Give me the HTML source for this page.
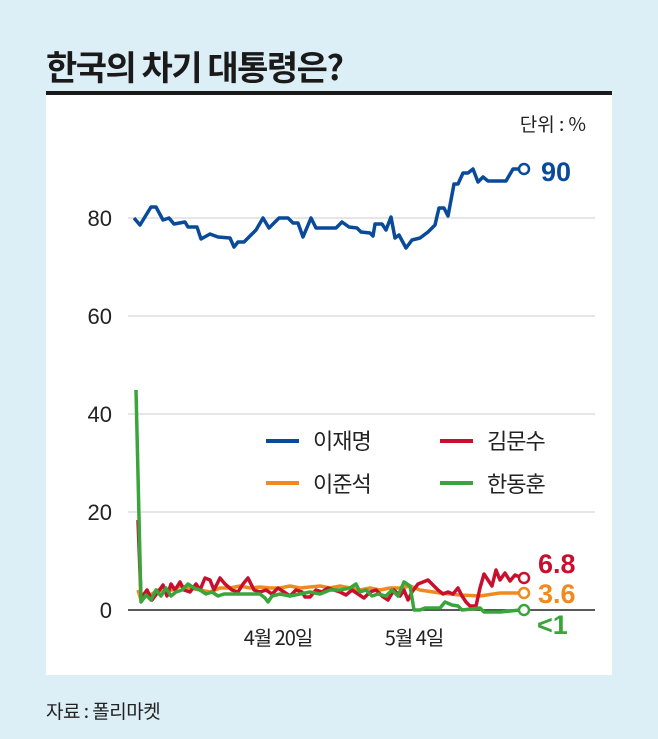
<!DOCTYPE html>
<html><head><meta charset="utf-8"><style>
body{margin:0;width:658px;height:739px;background:#dcEEF6;overflow:hidden;font-family:"Liberation Sans","Noto Sans CJK KR",sans-serif}
</style></head><body>
<svg width="658" height="739" viewBox="0 0 658 739" xmlns="http://www.w3.org/2000/svg" style="position:absolute;left:0;top:0">
<rect x="0" y="0" width="658" height="739" fill="#dcEEF6"/>
<rect x="46" y="92" width="566" height="583" fill="#fff"/>
<rect x="46" y="91" width="566" height="4" fill="#1a1a1a"/>
<text x="46" y="80" font-size="34" font-weight="bold" fill="#1a1a1a" font-family="Noto Sans CJK KR,sans-serif" letter-spacing="-1.5">한국의 차기 대통령은?</text>
<text x="586" y="131" font-size="19" fill="#222" text-anchor="end" font-family="Noto Sans CJK KR,sans-serif">단위 : %</text>
<g stroke="#ddd" stroke-width="1.5">
<line x1="128" y1="218" x2="595" y2="218"/><line x1="128" y1="316" x2="595" y2="316"/>
<line x1="128" y1="414" x2="595" y2="414"/><line x1="128" y1="512" x2="595" y2="512"/>
</g>
<line x1="128" y1="610" x2="595" y2="610" stroke="#222" stroke-width="1.5"/>
<g font-size="22" fill="#222" text-anchor="end" font-family="Liberation Sans Narrow,Liberation Sans,sans-serif">
<text x="112" y="226">80</text><text x="112" y="324">60</text><text x="112" y="422">40</text><text x="112" y="520">20</text><text x="112" y="618">0</text>
</g>
<g font-size="20" fill="#222" text-anchor="middle" font-family="Noto Sans CJK KR,sans-serif" letter-spacing="-1">
<text x="278" y="645">4월 20일</text><text x="414" y="645">5월 4일</text>
</g>
<g fill="none" stroke-width="3.5" stroke-linejoin="round">
<polyline stroke="#f08a1e" points="138,590 141,600 146,596 152,594 158,590 165,592 172,590 180,586 190,588 200,590 210,592 220,588 230,588 240,586 250,588 260,587 270,588 280,588 290,586 300,588 310,587 320,586 330,588 340,586 350,588 360,590 370,588 380,590 390,588 400,588 410,586 420,590 440,593 460,595 480,596 500,593 520,593"/>
<polyline stroke="#c8102e" points="138,520 141,598 147,590 152,600 158,592 163,585 167,596 171,584 175,590 180,582 184,590 190,592 196,584 200,590 205,578 210,580 214,590 220,578 225,584 232,590 238,592 243,584 248,578 254,590 260,592 266,590 272,594 278,588 284,592 290,596 296,590 302,592 305,597 310,597 316,590 322,592 328,588 334,590 340,592 346,595 352,590 358,594 364,598 370,592 376,590 382,596 388,600 394,590 400,596 404,590 408,600 412,592 418,584 423,582 428,580 433,585 438,590 443,594 448,592 453,594 458,588 462,596 466,602 470,606 476,606 480,588 484,574 488,580 492,586 496,570 500,580 505,573 510,581 515,575 520,577"/>
<polyline stroke="#3aa53a" points="136,390 141,602 146,595 151,600 156,590 161,596 166,588 171,596 176,592 182,590 188,584 194,588 200,590 206,594 212,592 218,596 224,594 240,594 260,594 265,598 268,602 272,596 280,594 290,596 300,594 310,592 320,594 330,590 340,590 350,588 356,584 360,592 366,590 372,596 378,594 386,596 392,590 398,596 404,582 410,586 414,610 420,610 425,608 440,608 445,602 452,605 458,606 462,610 480,608 484,612 500,612 520,610"/>
<polyline stroke="#0a4a9a" points="134,218 140,225 151,207 156,207 163,220 169,218 174,224 185,222 188,227 197,227 201,239 210,234 218,237 230,238 234,247 238,242 244,242 256,230 263,218 269,228 279,218 288,218 293,223 298,223 303,237 311,218 316,228 336,228 342,222 349,227 357,228 361,232 370,233 373,236 375,224 382,224 386,230 391,217 395,238 399,235 406,248 412,240 420,238 428,232 435,225 439,208 444,208 448,216 454,184 458,184 463,173 468,173 473,169 478,182 483,177 488,181 506,181 513,169 519,169"/>
</g>
<g fill="#fff" stroke-width="2.5">
<circle cx="524" cy="169" r="5" stroke="#0a4a9a"/>
<circle cx="524" cy="578" r="5" stroke="#c8102e"/>
<circle cx="524" cy="593" r="5" stroke="#f08a1e"/>
<circle cx="524" cy="610" r="5" stroke="#3aa53a"/>
</g>
<g font-size="27" font-weight="bold" font-family="Liberation Sans Narrow,Liberation Sans,sans-serif">
<text x="541" y="181" fill="#0a4a9a">90</text>
<text x="538" y="573" fill="#c8102e">6.8</text>
<text x="538" y="603" fill="#f08a1e">3.6</text>
<text x="537" y="634" fill="#3aa53a">&lt;1</text>
</g>
<g stroke-width="4">
<line x1="266" y1="441" x2="299" y2="441" stroke="#0a4a9a"/>
<line x1="440" y1="441" x2="473" y2="441" stroke="#c8102e"/>
<line x1="266" y1="483" x2="299" y2="483" stroke="#f08a1e"/>
<line x1="440" y1="483" x2="473" y2="483" stroke="#3aa53a"/>
</g>
<g font-size="22" fill="#222" font-family="Noto Sans CJK KR,sans-serif" letter-spacing="-1">
<text x="313" y="449">이재명</text><text x="487" y="449">김문수</text>
<text x="313" y="492">이준석</text><text x="487" y="492">한동훈</text>
</g>
<text x="46" y="718" font-size="19" fill="#222" font-family="Noto Sans CJK KR,sans-serif" letter-spacing="-0.5">자료 : 폴리마켓</text>
</svg>
</body></html>
